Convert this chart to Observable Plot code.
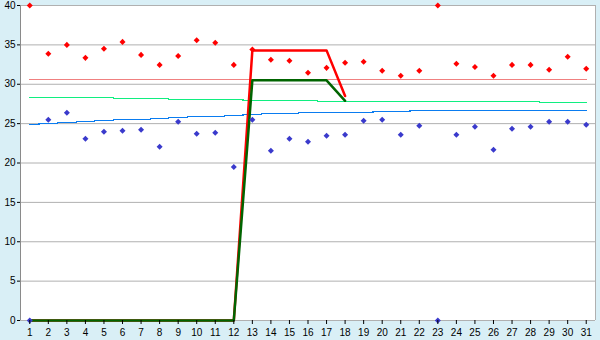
<!DOCTYPE html>
<html>
<head>
<meta charset="utf-8">
<script src="https://cdn.jsdelivr.net/npm/d3@7"></script>
<script src="https://cdn.jsdelivr.net/npm/@observablehq/plot@0.6"></script>
<style>
  html, body { margin: 0; padding: 0; background: #d9eff6; }
  #chart svg { display: block; }
</style>
</head>
<body>
<div id="chart"></div>
<script>
const days = d3.range(1, 32);
const yTicks = [0, 5, 10, 15, 20, 25, 30, 35, 40];

// Red diamond points
const redPoints = [40, 33.86, 35.0, 33.35, 34.5, 35.38, 33.73, 32.46, 33.6, 35.6,
  35.26, 32.46, 34.4, 33.1, 32.97, 31.45, 32.08, 32.72, 32.85, 31.7,
  31.07, 31.7, 40, 32.6, 32.2, 31.07, 32.46, 32.46, 31.83, 33.48, 31.96];
// Blue diamond points
const bluePoints = [0, 25.48, 26.37, 23.07, 23.96, 24.09, 24.21, 22.05, 25.23, 23.7,
  23.83, 19.5, 25.48, 21.55, 23.07, 22.69, 23.45, 23.58, 25.36, 25.48,
  23.58, 24.72, 0, 23.58, 24.59, 21.67, 24.34, 24.59, 25.23, 25.23, 24.85];
// Light green average line
const greenAvg = [28.28, 28.28, 28.28, 28.28, 28.28, 28.15, 28.15, 28.15, 28.02, 28.02,
  28.02, 28.02, 27.94, 27.94, 27.94, 27.94, 27.81, 27.81, 27.81, 27.81,
  27.81, 27.81, 27.81, 27.81, 27.81, 27.81, 27.81, 27.81, 27.64, 27.64, 27.64];
// Blue average line
const blueAvg = [24.89, 25.02, 25.14, 25.27, 25.40, 25.52, 25.52, 25.65, 25.78, 25.90,
  25.90, 26.03, 26.16, 26.29, 26.29, 26.41, 26.41, 26.41, 26.41, 26.54,
  26.54, 26.67, 26.67, 26.67, 26.67, 26.67, 26.67, 26.67, 26.67, 26.67, 26.67];
// Pink reference line
const pinkLine = days.map(() => 30.6);
// Thick red and dark green lines (days 1..18)
const lineDays = d3.range(1, 19);
const redLine = [0,0,0,0,0,0,0,0,0,0,0,0, 34.3, 34.3, 34.3, 34.3, 34.3, 28.5];
const darkGreenLine = [0,0,0,0,0,0,0,0,0,0,0,0, 30.5, 30.5, 30.5, 30.5, 30.5, 27.9];

const toRows = (xs, ys) => xs.map((d, i) => ({day: d, v: ys[i]}));

const chart = Plot.plot({
  width: 600,
  height: 340,
  marginLeft: 20,
  marginRight: 5,
  marginTop: 5,
  marginBottom: 20,
  style: {background: "#d9eff6", fontFamily: "Liberation Sans, Arial, sans-serif", fontSize: "10px", color: "#000"},
  x: {domain: [0.5, 31.5], label: null},
  y: {domain: [0, 40], label: null},
  marks: [
    Plot.frame({fill: "white", stroke: null}),
    Plot.ruleY(yTicks, {stroke: "#b0b0b0", strokeWidth: 1}),
    Plot.ruleX([31.5], {stroke: "#b0b0b0", strokeWidth: 1}),
    Plot.ruleX([0.5], {stroke: "#8a8a8a", strokeWidth: 1}),
    Plot.line(toRows(days, pinkLine), {x: "day", y: "v", stroke: "#f08080", strokeWidth: 1.2, shapeRendering: "crispEdges"}),
    Plot.line(toRows(days, greenAvg), {x: "day", y: "v", stroke: "#10ee80", strokeWidth: 1.2, curve: "step", shapeRendering: "crispEdges"}),
    Plot.line(toRows(days, blueAvg), {x: "day", y: "v", stroke: "#0a7cf0", strokeWidth: 1.2, curve: "step", shapeRendering: "crispEdges"}),
    Plot.line(toRows(lineDays, redLine), {x: "day", y: "v", stroke: "#ff0000", strokeWidth: 2.5}),
    Plot.line(toRows(lineDays, darkGreenLine), {x: "day", y: "v", stroke: "#006400", strokeWidth: 2.5}),
    Plot.dot(toRows(days, redPoints), {x: "day", y: "v", symbol: "square", r: 2.4, rotate: 45, fill: "#ff0000", stroke: null}),
    Plot.dot(toRows(days, bluePoints), {x: "day", y: "v", symbol: "square", r: 2.4, rotate: 45, fill: "#3a3acc", stroke: null}),
    Plot.axisX({ticks: days, tickFormat: d => String(d), tickSize: 4, tickPadding: 4, stroke: "#000", fill: "#000", label: null}),
    Plot.axisY({ticks: yTicks, tickFormat: d => String(d), tickSize: 3, tickPadding: 2, stroke: "#000", fill: "#000", label: null})
  ]
});
document.getElementById("chart").appendChild(chart);
</script>
</body>
</html>
